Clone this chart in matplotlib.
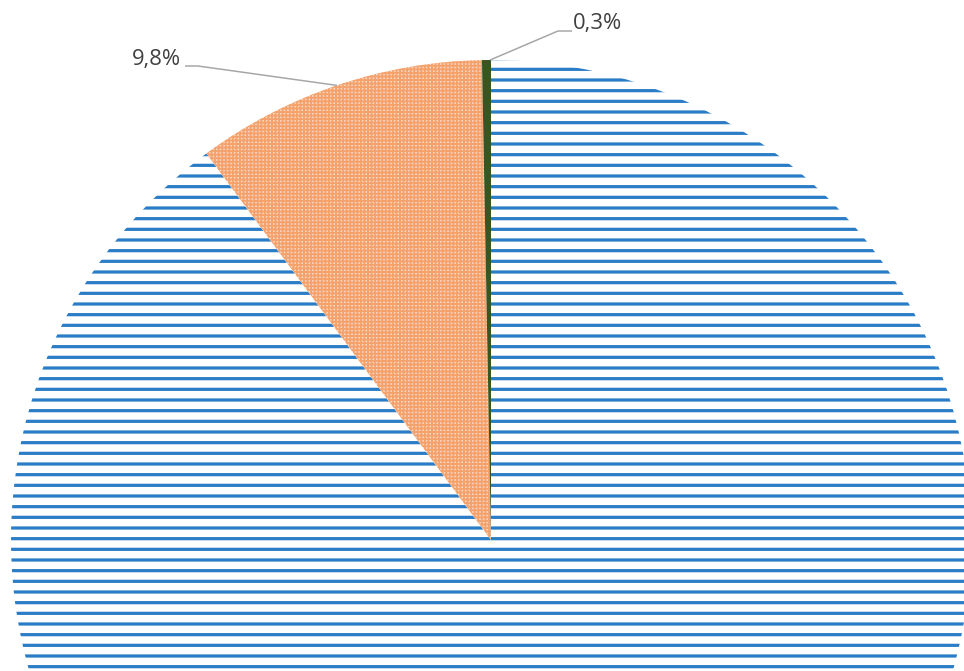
import numpy as np
import matplotlib
matplotlib.use("Agg")
import matplotlib.pyplot as plt

# share of each part, in percent
labels = ["9,8%", "0,3%"]
values = [89.9, 9.8, 0.3]
face_colors = ["white", "#FBD8C1", "#375623"]
hatches = ["-", "+++", ""]
hatch_colors = ["#2A7CC6", "#F4A36E", "#375623"]
hatch_widths = [3.2, 1.9, 1.0]  # pixels

DPI = 64
W, H = 964, 671
plt.rcParams["font.family"] = ["Open Sans", "DejaVu Sans"]

fig = plt.figure(figsize=(W / DPI, H / DPI), dpi=DPI)
ax = fig.add_axes([0, 0, 1, 1])

cx, cy, r = 491, H - 540, 480
wedges, _ = ax.pie(values, colors=face_colors, startangle=90, counterclock=False,
                   center=(cx, cy), radius=r, frame=True,
                   wedgeprops=dict(linewidth=0))
for w, h, hc, hw in zip(wedges, hatches, hatch_colors, hatch_widths):
    w.set_edgecolor(hc)
    w.set_linewidth(0)
    if h:
        w.set_hatch(h)
        if hasattr(w, "set_hatch_linewidth"):
            w.set_hatch_linewidth(hw * 72 / DPI)
        else:
            w._hatch_linewidth = hw * 72 / DPI
ax.set_xlim(0, W)
ax.set_ylim(0, H)
ax.set_aspect("equal")
ax.axis("off")

# leader lines and labels
label_pos = [(185, H - 66), (572, H - 31)]
text_pos = [(181, H - 60), (573, H - 24)]
anchor_frac = [0.5, 0.1]
for w, lab, lp, tp, fr in zip(wedges[1:], labels, label_pos, text_pos, anchor_frac):
    ang = np.deg2rad(w.theta1 + (w.theta2 - w.theta1) * fr)
    px = cx + r * np.cos(ang)
    py = cy + r * np.sin(ang)
    if lp[0] < cx:
        xs = [px, lp[0] + 13, lp[0]]
        ha = "right"
    else:
        xs = [px, lp[0] - 14, lp[0]]
        ha = "left"
    ax.plot(xs, [py, lp[1], lp[1]], color="#A6A6A6", lw=1.5 * 72 / DPI,
            solid_capstyle="butt")
    ax.text(tp[0], tp[1], lab, ha=ha, va="center", fontsize=22 * 72 / DPI,
            color="#404040")

fig.savefig("out.png", dpi=DPI)
